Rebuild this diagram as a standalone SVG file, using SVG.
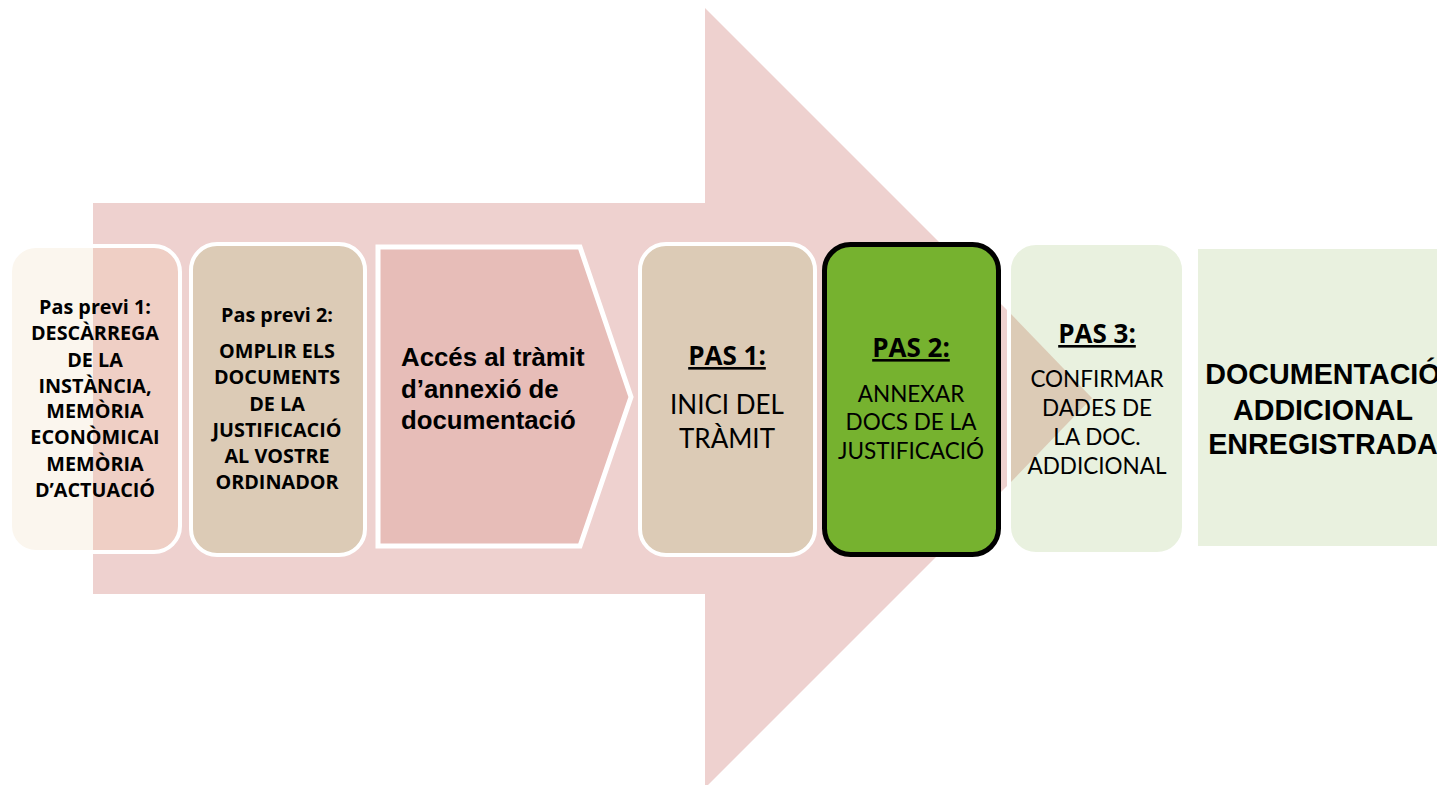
<svg xmlns="http://www.w3.org/2000/svg" width="1437" height="785" viewBox="0 0 1437 785">
<style>
.cal{font-family:Lato,"Open Sans","Noto Sans",sans-serif;fill:#000;text-anchor:middle}
.b{font-family:"Open Sans",Lato,"Noto Sans",sans-serif;font-weight:bold}
.ar{font-family:"Liberation Sans",Arial,sans-serif;font-weight:bold;fill:#000}
.s1{font-size:19.8px}
.ttl{font-family:"Open Sans",Lato,sans-serif;font-size:26px;font-weight:bold;text-decoration:underline}
.reg{font-size:22.5px}
.wst{stroke:#fff;stroke-width:4}
</style>
<defs>
<clipPath id="c1"><rect x="10" y="246" width="170" height="306" rx="26"/></clipPath>
<clipPath id="c5"><rect x="1011" y="245" width="171" height="307" rx="26"/></clipPath>
</defs>
<rect width="1437" height="785" fill="#fff"/>
<g id="bigArrow">
<polygon points="93,203 705,203 705,8 1095,398 705,788 705,594 93,594" fill="#eed1cf"/>
</g>
<g id="connectors"></g>
<g id="prev1">
<g clip-path="url(#c1)">
<rect x="10" y="246" width="170" height="306" fill="#fbf6ee"/>
<rect x="93" y="246" width="90" height="306" fill="#efcfc5"/>
</g>
<rect x="10" y="246" width="170" height="306" rx="26" fill="none" class="wst"/>
<text class="cal b s1" x="95"><tspan x="95" y="314">Pas previ 1:</tspan><tspan x="95" y="340">DESCÀRREGA</tspan><tspan x="95" y="367">DE LA</tspan><tspan x="95" y="393">INSTÀNCIA,</tspan><tspan x="95" y="418">MEMÒRIA</tspan><tspan x="95" y="444">ECONÒMICAI</tspan><tspan x="95" y="471">MEMÒRIA</tspan><tspan x="95" y="497">D’ACTUACIÓ</tspan></text>
</g>
<g id="prev2">
<rect x="191" y="244" width="174" height="311" rx="26" fill="#dccbb6" class="wst"/>
<text class="cal b s1" x="277"><tspan x="277" y="322">Pas previ 2:</tspan><tspan x="277" y="358">OMPLIR ELS</tspan><tspan x="277" y="384">DOCUMENTS</tspan><tspan x="277" y="411">DE LA</tspan><tspan x="277" y="437">JUSTIFICACIÓ</tspan><tspan x="277" y="463">AL VOSTRE</tspan><tspan x="277" y="489">ORDINADOR</tspan></text>
</g>
<g id="acces">
<polygon points="378,247 580,247 631,397 580,546 378,546" fill="#e7bdb8" stroke="#fff" stroke-width="5" stroke-linejoin="miter"/>
<text class="ar" font-size="25.8"><tspan x="401" y="366">Accés al tràmit</tspan><tspan x="401" y="398">d’annexió de</tspan><tspan x="401" y="429">documentació</tspan></text>
</g>
<g id="pas1">
<rect x="640" y="244" width="175" height="311" rx="26" fill="#dccbb6" class="wst"/>
<text class="cal ttl" x="727" y="365">PAS 1:</text>
<text class="cal" font-size="26"><tspan x="727" y="414">INICI DEL</tspan><tspan x="727" y="448">TRÀMIT</tspan></text>
</g>
<g id="pas2">
<rect x="824.5" y="244.5" width="174" height="310" rx="26" fill="#76b22f" stroke="#000" stroke-width="5"/>
<text class="cal ttl" x="911" y="357">PAS 2:</text>
<text class="cal reg"><tspan x="911" y="402">ANNEXAR</tspan><tspan x="911" y="430">DOCS DE LA</tspan><tspan x="911" y="459">JUSTIFICACIÓ</tspan></text>
</g>
<g id="pas3">
<rect x="1009" y="243" width="175" height="311" rx="27" fill="#e9f1df" class="wst"/>
<polygon points="1011,314 1092,398 1011,482" fill="#dccbb6" clip-path="url(#c5)"/>
<text class="cal ttl" x="1097" y="343">PAS 3:</text>
<text class="cal reg"><tspan x="1097" y="387">CONFIRMAR</tspan><tspan x="1097" y="416">DADES DE</tspan><tspan x="1097" y="445">LA DOC.</tspan><tspan x="1097" y="474">ADDICIONAL</tspan></text>
</g>
<g id="final">
<rect x="1198" y="249" width="260" height="297" fill="#e9f1df"/>
<text class="ar" font-size="28.7" text-anchor="middle"><tspan x="1323" y="384">DOCUMENTACIÓ</tspan><tspan x="1323" y="420">ADDICIONAL</tspan><tspan x="1323" y="454">ENREGISTRADA</tspan></text>
</g>
</svg>
